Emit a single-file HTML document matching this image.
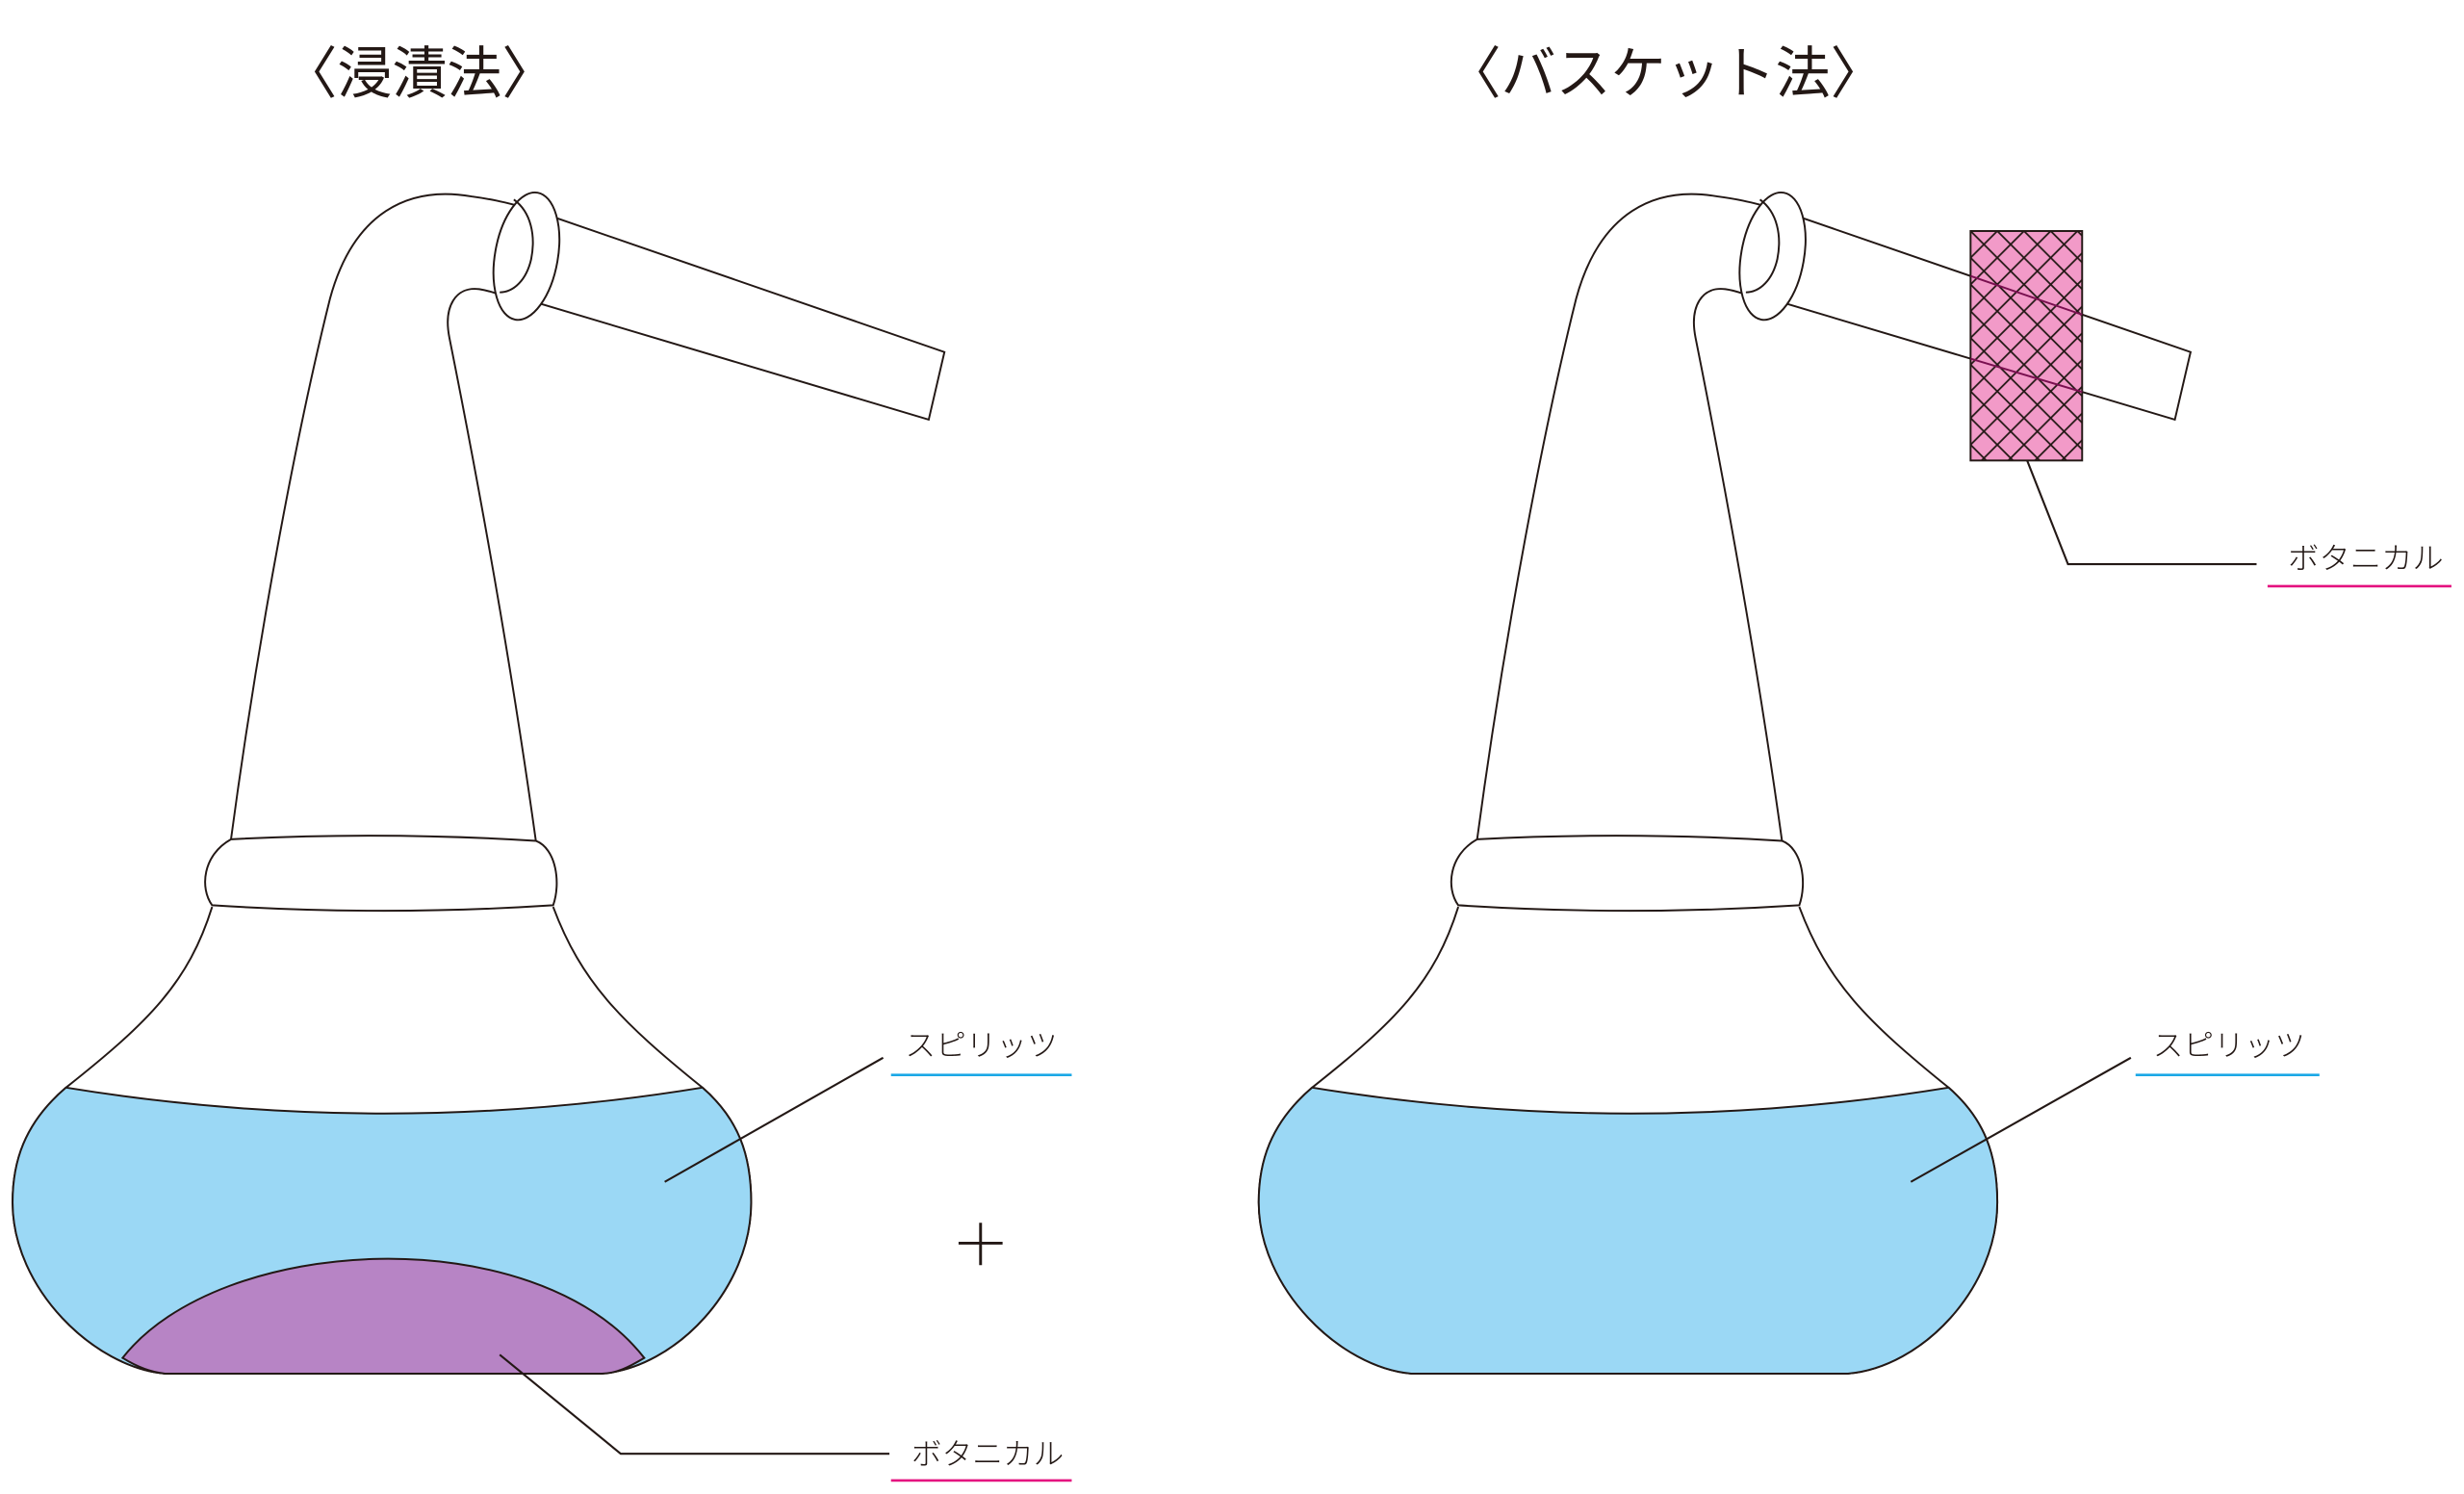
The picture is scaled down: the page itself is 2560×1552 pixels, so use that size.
<!DOCTYPE html>
<html><head><meta charset="utf-8"><style>html,body{margin:0;padding:0;background:#fff}svg{display:block}</style></head>
<body>
<svg width="2560" height="1552" viewBox="0 0 1568 950.6" xmlns="http://www.w3.org/2000/svg">
<defs>
<pattern id="hatch" width="17" height="17" patternUnits="userSpaceOnUse" patternTransform="translate(1254,147)">
<path d="M0,0 L17,17 M17,0 L0,17" stroke="#231815" stroke-width="1.1"/>
</pattern>
<g id="still" fill="none" stroke="#231815" stroke-width="1.2">
  <path d="M135,577 C120,625 95,650 42,692 C15,715 8,740 8,765 C8,820 60,870 105,874 L383,874 C430,870 478,820 478,765 C478,735 470,712 447,692 C395,650 370,625 352,577" fill="#fff"/>
  <path d="M147,534 Q245,529 341,535 C354,540 357,562 352,576 Q245,583 135,576 C127,565 129,544 147,534 Z" fill="#fff"/>
  <path d="M147,534 C165,400 190,270 210,190 C225,135 260,118 300,125 C315,127 322,129 330,131"/>
  <path d="M341,535 C325,420 305,310 286,215 C282,195 290,182 305,184 C312,185 316,187 320,188"/>
  <path d="M352,138 L601,224 L591,267 L343,193"/>
  <ellipse cx="335" cy="163" rx="20" ry="41" transform="rotate(10 335 163)" fill="#fff"/>
  <path d="M327,127 C338,135 341,150 338,165 C335,178 327,186 318,186"/>
</g>
</defs>

<text font-family="'Liberation Sans','Noto Sans CJK JP',sans-serif" font-size="36" text-anchor="middle" fill="#231815" transform="translate(267,59) scale(0.97,1)">〈浸漬法〉</text>
<text font-family="'Liberation Sans','Noto Sans CJK JP',sans-serif" font-size="36" text-anchor="middle" fill="#231815" transform="translate(1060,59) scale(0.97,1)">〈バスケット法〉</text>

<use href="#still"/>
<path d="M42,692 Q245,725 447,692 C470,712 478,735 478,765 C478,820 430,870 383,874 L105,874 C60,870 8,820 8,765 C8,740 15,715 42,692 Z" fill="#9bd8f5" stroke="#231815" stroke-width="1.2"/>
<path d="M78,864 C140,785 340,775 410,864 C400,870 392,874 383,874 L105,874 C95,873 86,869 78,864 Z" fill="#b784c5" stroke="#231815" stroke-width="1.2"/>
<g fill="none" stroke="#231815" stroke-width="1.3">
<path d="M562,673 L423,752"/>
<path d="M318,862 L395,925 L566,925"/>
<path d="M624,778 V805 M610,791 H638" stroke-width="1.8"/>
</g>
<line x1="567" y1="684" x2="682" y2="684" stroke="#1ba8e6" stroke-width="1.6"/>
<line x1="567" y1="942" x2="682" y2="942" stroke="#e4117f" stroke-width="1.6"/>
<g font-family="'Liberation Sans','Noto Sans CJK JP',sans-serif" font-size="19" fill="#231815" font-weight="300">
<text x="576" y="672" textLength="97" lengthAdjust="spacingAndGlyphs">スピリッツ</text>
<text x="580" y="932" textLength="97" lengthAdjust="spacingAndGlyphs">ボタニカル</text>
<text x="1370" y="672" textLength="97" lengthAdjust="spacingAndGlyphs">スピリッツ</text>
<text x="1456" y="362" textLength="99" lengthAdjust="spacingAndGlyphs">ボタニカル</text>
</g>

<g transform="translate(793,0)">
<use href="#still"/>
<path d="M42,692 Q245,725 447,692 C470,712 478,735 478,765 C478,820 430,870 383,874 L105,874 C60,870 8,820 8,765 C8,740 15,715 42,692 Z" fill="#9bd8f5" stroke="#231815" stroke-width="1.2"/>
</g>
<rect x="1254" y="147" width="71" height="146" fill="#f29ac8" stroke="#231815" stroke-width="1.2"/>
<rect x="1254" y="147" width="71" height="146" fill="url(#hatch)"/>
<g stroke="#7a1050" stroke-width="1.2">
<line x1="1254" y1="175.6" x2="1325" y2="200.2"/>
<line x1="1254" y1="228.2" x2="1325" y2="249.4"/>
</g>
<g fill="none" stroke="#231815" stroke-width="1.3">
<path d="M1356,673 L1216,752"/>
<path d="M1290,293 L1316,359 L1436,359"/>
</g>
<line x1="1359" y1="684" x2="1476" y2="684" stroke="#1ba8e6" stroke-width="1.6"/>
<line x1="1443" y1="373" x2="1560" y2="373" stroke="#e4117f" stroke-width="1.6"/>
</svg>
</body></html>
